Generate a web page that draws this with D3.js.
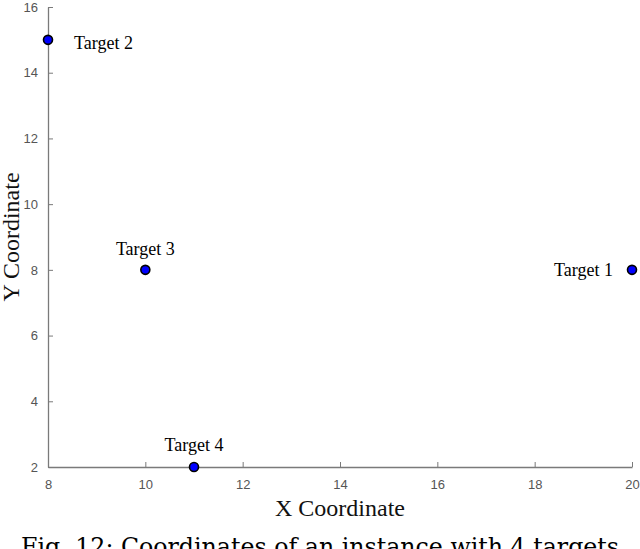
<!DOCTYPE html>
<html>
<head>
<meta charset="utf-8">
<script src="https://cdn.jsdelivr.net/npm/d3@7"></script>
<style>
  body { margin: 0; background: #fff; }
  svg { display: block; }
</style>
</head>
<body>
<svg id="chart" width="640" height="549"></svg>
<script>
// target data
const targetNames = ['Target 1', 'Target 2', 'Target 3', 'Target 4'];
const targetX = [20, 8, 10, 11];
const targetY = [8, 15, 8, 2];
const xTicks = [8, 10, 12, 14, 16, 18, 20];
const yTicks = [2, 4, 6, 8, 10, 12, 14, 16];

const width = 640, height = 549;
const margin = {left: 48, right: 8, top: 7, bottom: 82};
const axisColor = '#7a7a7a';

const svg = d3.select('#chart');

const x = d3.scaleLinear().domain([8, 20]).range([margin.left, width - margin.right]);
const y = d3.scaleLinear().domain([2, 16]).range([height - margin.bottom, margin.top]);

// x axis, ticks pointing inward
let gx = svg.append('g')
	.attr('transform', `translate(0,${y(2)})`)
	.call(d3.axisBottom(x).tickValues(xTicks).tickSize(-5).tickPadding(13).tickSizeOuter(0));
gx.select('.domain').attr('stroke', axisColor).attr('stroke-width', 1.3);
gx.selectAll('.tick line').attr('stroke', axisColor);
gx.selectAll('.tick text')
	.attr('fill', '#555')
	.attr('font-family', 'Liberation Sans, Arial, sans-serif')
	.attr('font-size', '13px');

let gy = svg.append('g')
	.attr('transform', `translate(${x(8)},0)`)
	.call(d3.axisLeft(y).tickValues(yTicks).tickSize(-5).tickPadding(10).tickSizeOuter(0));
gy.select('.domain').attr('stroke', axisColor).attr('stroke-width', 1.3);
gy.selectAll('.tick line').attr('stroke', axisColor);
gy.selectAll('.tick text')
	.attr('fill', '#555')
	.attr('font-family', 'Liberation Sans, Arial, sans-serif')
	.attr('font-size', '13px');

// points
const pts = targetNames.map((n, i) => ({name: n, x: targetX[i], y: targetY[i]}));
svg.append('g').selectAll('circle')
	.data(pts)
	.enter().append('circle')
	.attr('cx', d => x(d.x))
	.attr('cy', d => y(d.y))
	.attr('r', 4.5)
	.attr('fill', '#0000ff')
	.attr('stroke', '#000')
	.attr('stroke-width', 1.6);

// labels, placed by hand like the original figure
const labelPos = {
	'Target 1': {dx: -19, dy: 6, anchor: 'end'},
	'Target 2': {dx: 26, dy: 9, anchor: 'start'},
	'Target 3': {dx: 0, dy: -15, anchor: 'middle'},
	'Target 4': {dx: 0, dy: -16, anchor: 'middle'}
};
svg.append('g').selectAll('text')
	.data(pts)
	.enter().append('text')
	.attr('x', d => x(d.x) + labelPos[d.name].dx)
	.attr('y', d => y(d.y) + labelPos[d.name].dy)
	.attr('text-anchor', d => labelPos[d.name].anchor)
	.attr('font-family', 'Liberation Serif, Times New Roman, serif')
	.attr('font-size', '18px')
	.attr('fill', '#000')
	.text(d => d.name);

// axis titles
svg.append('text')
	.attr('x', (x(8) + x(20)) / 2)
	.attr('y', 516)
	.attr('text-anchor', 'middle')
	.attr('font-family', 'Liberation Serif, Times New Roman, serif')
	.attr('font-size', '24px')
	.attr('fill', '#111')
	.text('X Coordinate');

svg.append('text')
	.attr('transform', `translate(19,${(y(2) + y(16)) / 2}) rotate(-90)`)
	.attr('text-anchor', 'middle')
	.attr('font-family', 'Liberation Serif, Times New Roman, serif')
	.attr('font-size', '24px')
	.attr('fill', '#111')
	.text('Y Coordinate');

// caption
svg.append('text')
	.attr('x', 320)
	.attr('y', 555)
	.attr('text-anchor', 'middle')
	.attr('font-family', 'DejaVu Serif, serif')
	.attr('font-size', '24px')
	.attr('textLength', 598)
	.attr('lengthAdjust', 'spacingAndGlyphs')
	.attr('fill', '#000')
	.text('Fig. 12: Coordinates of an instance with 4 targets');
</script>
</body>
</html>
